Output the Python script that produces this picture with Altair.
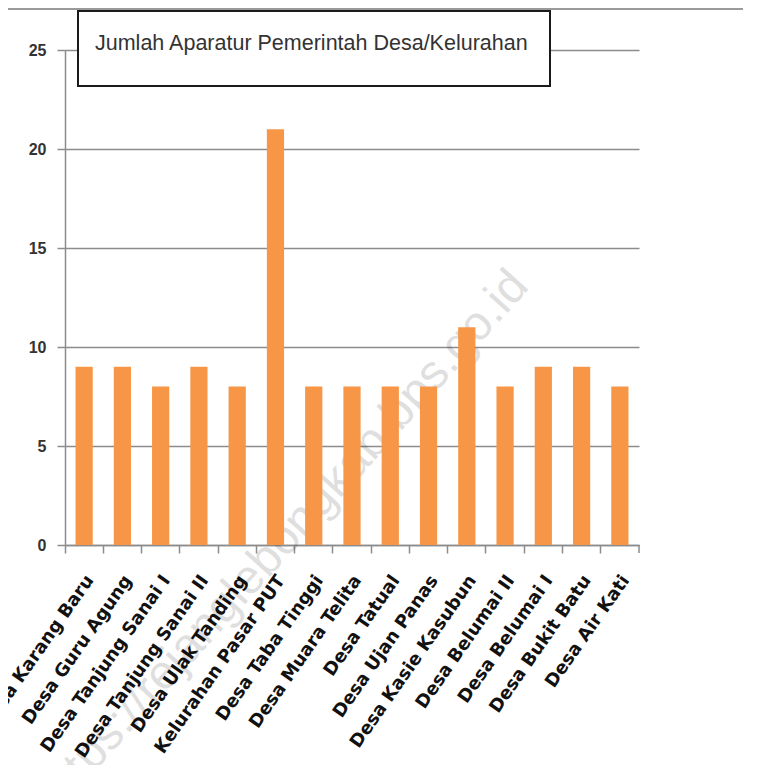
import altair as alt
import pandas as pd

categories = [
    "Desa Karang Baru", "Desa Guru Agung", "Desa Tanjung Sanai I",
    "Desa Tanjung Sanai II", "Desa Ulak Tanding", "Kelurahan Pasar PUT",
    "Desa Taba Tinggi", "Desa Muara Telita", "Desa Tatual",
    "Desa Ujan Panas", "Desa Kasie Kasubun", "Desa Belumai II",
    "Desa Belumai I", "Desa Bukit Batu", "Desa Air Kati",
]
values = [9, 9, 8, 9, 8, 21, 8, 8, 8, 8, 11, 8, 9, 9, 8]
y_ticks = [0, 5, 10, 15, 20, 25]
title_text = "Jumlah Aparatur Pemerintah Desa/Kelurahan"
watermark = "https://rejanglebongkab.bps.go.id"

df = pd.DataFrame({"desa": categories, "jumlah": values})
one = pd.DataFrame({"k": [0]})

W, H = 574, 495
GRAY = "#8c8c8c"

wm = alt.Chart(one).mark_text(
    angle=312, font="Liberation Sans", fontSize=48, color="#000", opacity=0.12,
    align="right", baseline="middle",
).encode(x=alt.value(455), y=alt.value(228), text=alt.value(watermark))

bars = alt.Chart(df).mark_bar(color="#F79646", width=alt.RelativeBandSize(0.45)).encode(
    x=alt.X(
        "desa:N", sort=categories,
        scale=alt.Scale(paddingInner=0, paddingOuter=0),
        axis=alt.Axis(
            title=None, labelAngle=-55, bandPosition=0, labelOffset=6,
            labelAlign="right", labelBaseline="middle", labelPadding=24,
            labelFont="DejaVu Sans", labelFontSize=18, labelFontWeight="bold",
            labelColor="#111", tickSize=8, tickColor=GRAY, domainColor=GRAY,
            domainWidth=1.5, tickWidth=1.5, grid=False, labelOverlap=False,
            labelLimit=400,
        ),
    ),
    y=alt.Y(
        "jumlah:Q", scale=alt.Scale(domain=[0, 25], nice=False),
        axis=alt.Axis(
            title=None, values=y_ticks, grid=True, gridColor=GRAY, gridWidth=1.5,
            domainColor=GRAY, domainWidth=1.5, tickColor=GRAY, tickWidth=1.5,
            tickSize=8, labelFont="Liberation Sans", labelFontSize=16,
            labelFontWeight="bold", labelColor="#333", labelPadding=11,
        ),
    ),
)

end_tick = alt.Chart(one).mark_rule(color=GRAY, strokeWidth=1.5).encode(
    x=alt.value(W), y=alt.value(H), y2=alt.value(H + 8)
)

top_line = alt.Chart(one).mark_rule(color="#9a9a9a", strokeWidth=2).encode(
    x=alt.value(-70), x2=alt.value(700), y=alt.value(-41)
)

box = alt.Chart(one).mark_rect(fill="white", stroke="#1a1a1a", strokeWidth=2).encode(
    x=alt.value(13), x2=alt.value(485), y=alt.value(-39), y2=alt.value(36)
)

title = alt.Chart(one).mark_text(
    align="left", baseline="middle", font="Liberation Sans", fontSize=21.5,
    color="#333",
).encode(x=alt.value(30), y=alt.value(-6), text=alt.value(title_text))

chart = alt.layer(wm, bars, end_tick, top_line, box, title).properties(
    width=W, height=H,
    autosize=alt.AutoSizeParams(type="none"),
    padding={"left": 57, "top": 42, "right": 104, "bottom": 220},
).configure_view(stroke=None)

chart.save("out.html", embed_options={"renderer": "svg", "actions": False})
